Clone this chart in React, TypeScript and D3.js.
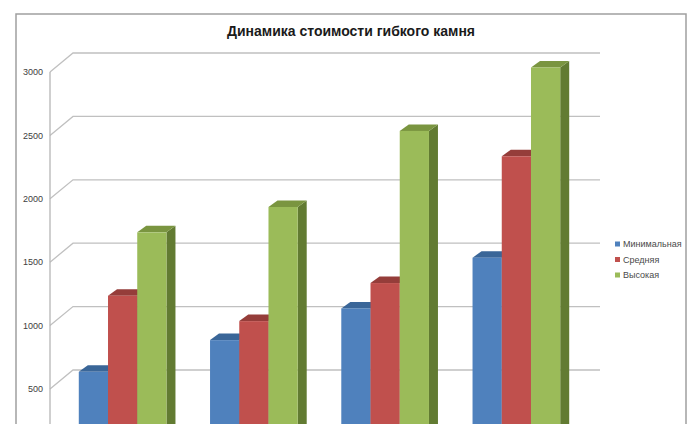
import React from 'react'
import * as d3 from 'd3'

const categories = ['1', '2', '3', '4']
const seriesNames = ['Минимальная', 'Средняя', 'Высокая']
const minimal = [600, 850, 1100, 1500]
const average = [1200, 1000, 1300, 2300]
const high = [1700, 1900, 2500, 3000]
const yTicks = [500, 1000, 1500, 2000, 2500, 3000]

const frontColors = ['#4f81bd', '#c0504d', '#9bbb59']
const topColors = ['#3a6698', '#953d3a', '#7a9540']
const sideColors = ['#2f5587', '#7d2f2d', '#627b32']

const W = 700
const H = 440
const clipBottom = 424
// depth of the floor/back wall and of the bars
const wallDx = 23
const wallDy = -19
const barOffX = 6
const barOffY = -4.5
const barDx = 9
const barDy = -6.5

export default function App () {
  const series = [minimal, average, high]
  const xScale = d3.scaleBand<string>()
    .domain(categories)
    .range([51, 576])
    .paddingInner(0.332)
    .paddingOuter(0.166)
  const xInner = d3.scaleBand<number>()
    .domain([0, 1, 2])
    .range([0, xScale.bandwidth()])
  const yScale = d3.scaleLinear()
    .domain([0, 3000])
    .range([452.4, 72])

  const bars: JSX.Element[] = []
  categories.forEach((c, ci) => {
    series.forEach((s, si) => {
      const x0 = (xScale(c) as number) + (xInner(si) as number) + barOffX
      const w = xInner.bandwidth()
      const y0 = yScale(s[ci]) + barOffY
      const side = d3.path()
      side.moveTo(x0 + w, y0)
      side.lineTo(x0 + w + barDx, y0 + barDy)
      side.lineTo(x0 + w + barDx, H)
      side.lineTo(x0 + w, H)
      side.closePath()
      const top = d3.path()
      top.moveTo(x0, y0)
      top.lineTo(x0 + barDx, y0 + barDy)
      top.lineTo(x0 + w + barDx, y0 + barDy)
      top.lineTo(x0 + w, y0)
      top.closePath()
      bars.push(<g key={`${ci}-${si}`}>
        <path d={side.toString()} fill={sideColors[si]} />
        <path d={top.toString()} fill={topColors[si]} />
        <rect x={x0} y={y0} width={w} height={H - y0} fill={frontColors[si]} />
      </g>)
    })
  })

  return <div style={{ position: 'absolute', left: 0, top: 0 }}>
    <svg width={W} height={H} style={{ display: 'block', background: '#fff' }} fontFamily='Liberation Sans, Arial, sans-serif'>
      <defs>
        <clipPath id='cut'>
          <rect x={0} y={0} width={W} height={clipBottom} />
        </clipPath>
      </defs>
      <g clipPath='url(#cut)'>
        {/* outer frame */}
        <path d={`M16,${clipBottom}V14H686V${clipBottom}`} fill='none' stroke='#a0a0a0' strokeWidth={1.5} />
        {/* gridlines */}
        {yTicks.map((v, i) => {
          const y = yScale(v)
          return <g key={i}>
            <path d={`M50,${y}L${50 + wallDx},${y + wallDy}H600`} fill='none' stroke='#c0c0c0' strokeWidth={1.3} />
            <text x={43} y={y} dy='0.35em' textAnchor='end' fontSize={9} fill='#404040'>{v}</text>
          </g>
        })}
        <line x1={50} y1={yScale(3000)} x2={50} y2={H} stroke='#b5b5b5' strokeWidth={1.3} />
        {bars}
      </g>
      <text x={351} y={36} textAnchor='middle' fontSize={14} fontWeight='bold' fill='#1a1a1a'>Динамика стоимости гибкого камня</text>
      {seriesNames.map((n, i) => {
        const y = 244 + i * 15.5
        return <g key={n}>
          <rect x={615} y={y - 2.5} width={5} height={5} fill={frontColors[i]} />
          <text x={623} y={y} dy='0.35em' fontSize={9} fill='#4a4a4a'>{n}</text>
        </g>
      })}
    </svg>
  </div>
}
